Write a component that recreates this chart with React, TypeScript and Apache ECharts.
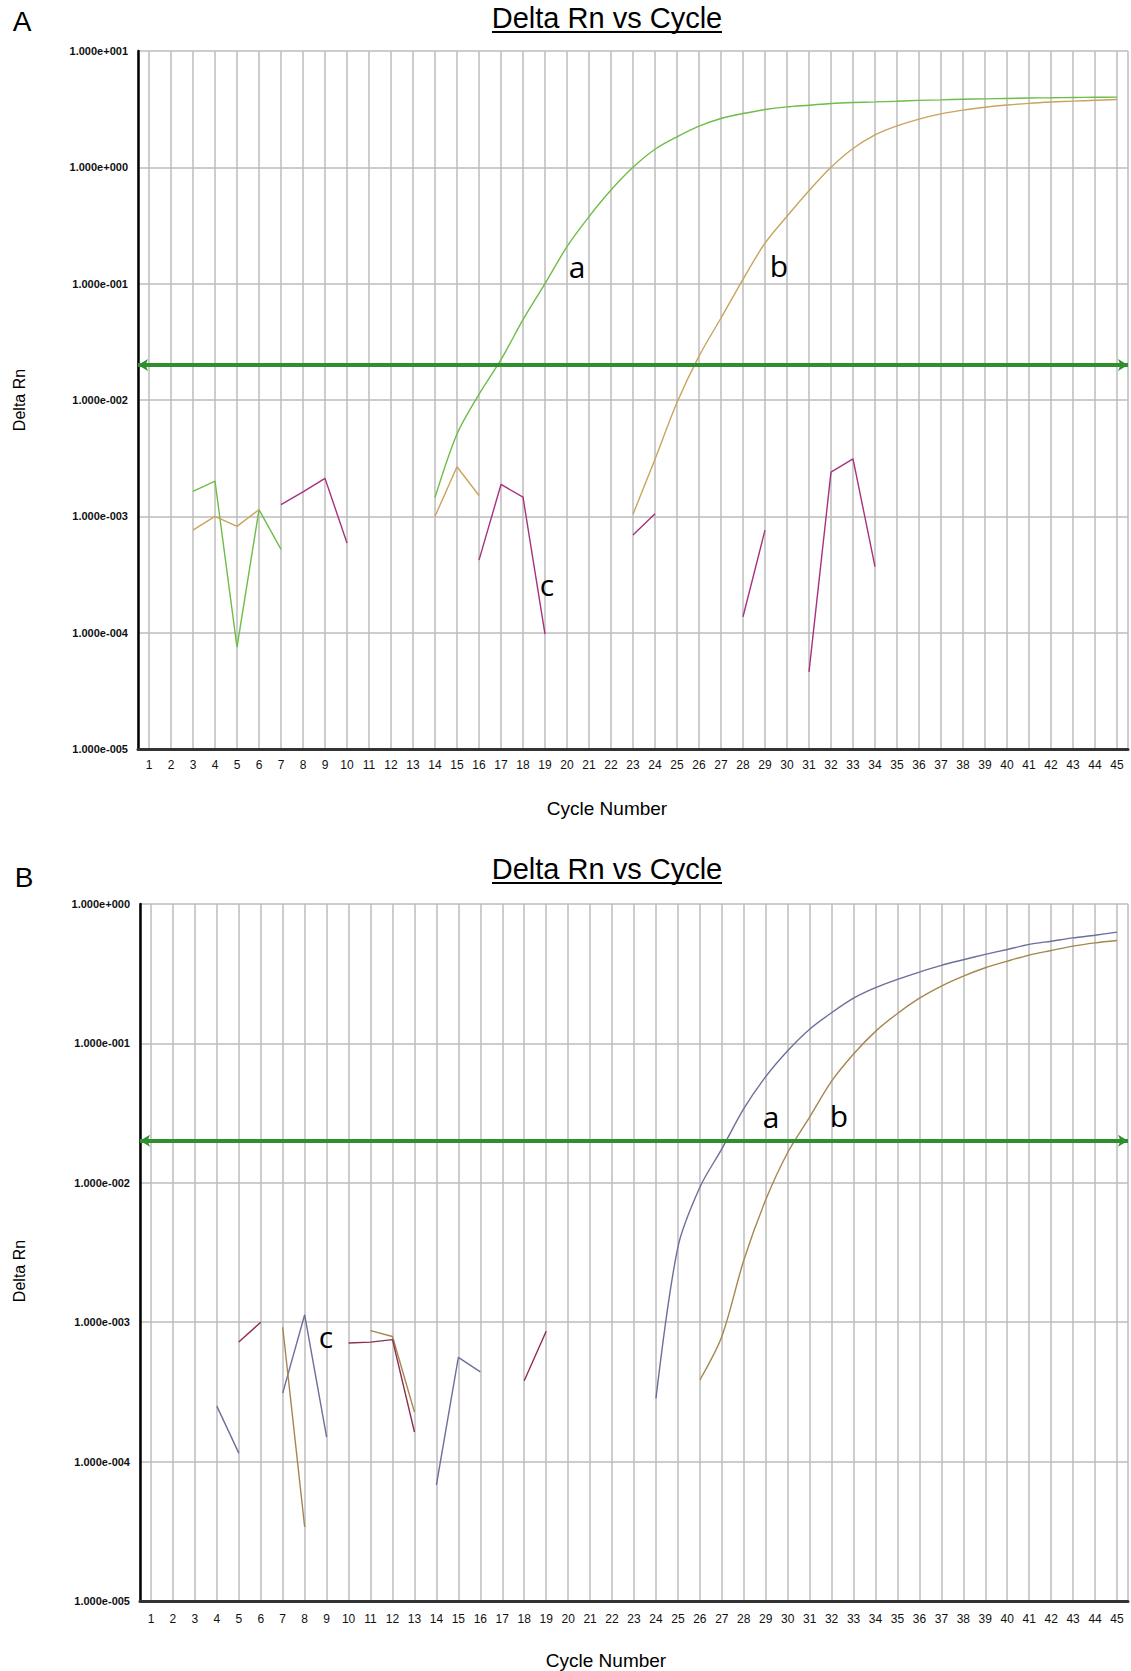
import React, { useEffect, useRef } from 'react';
import * as echarts from 'echarts';

// ---------- data ----------
const CYCLES = [1,2,3,4,5,6,7,8,9,10,11,12,13,14,15,16,17,18,19,20,21,22,23,24,25,26,27,28,29,30,31,32,33,34,35,36,37,38,39,40,41,42,43,44,45];
const THRESHOLD = 0.02;

// Panel A
const A_GREEN = [null,null,0.00164,0.00201,0.000075,0.00114,0.00052,null,null,null,null,null,null,
  0.00145,0.0051,0.0112,0.0222,0.049,0.1,0.208,0.377,0.638,1.0,
  1.43,1.83,2.26,2.63,2.9,3.14,3.31,3.42,3.54,3.61,
  3.65,3.7,3.76,3.8,3.85,3.88,3.91,3.94,3.96,3.98,4.0,4.01];
const A_ORANGE = [null,null,0.00076,0.001,0.00082,0.00114,null,null,null,null,null,null,null,
  0.001,0.00267,0.00151,null,null,null,null,null,null,
  0.00104,0.0031,0.0095,0.0238,0.0507,0.109,0.223,0.38,0.63,1.0,
  1.45,1.9,2.27,2.6,2.88,3.1,3.28,3.43,3.55,3.64,3.71,3.77,3.83];
const A_MAGENTA = [null,null,null,null,null,null,0.00126,0.00162,0.00212,0.00059,null,null,null,null,null,
  0.00042,0.00188,0.00146,0.000097,null,null,null,0.00069,0.00105,null,null,null,
  0.000137,0.00076,null,0.000046,0.0024,0.00312,0.00037,
  null,null,null,null,null,null,null,null,null,null,null];
// first cycle of each amplification curve (earlier points are background noise)
const A_GREEN_START = 14;
const A_ORANGE_START = 23;

// Panel B
const B_BLUE = [null,null,null,0.00025,0.000115,null,0.00031,0.00113,0.00015,null,null,null,null,
  0.000068,0.00056,0.00044,null,null,null,null,null,null,null,
  0.000284,0.00346,0.0093,0.0175,0.034,0.0578,0.0887,0.1265,0.166,0.211,
  0.251,0.288,0.325,0.363,0.398,0.435,0.472,0.513,0.541,0.571,0.597,0.628];
const B_BROWN = [null,null,null,null,null,null,0.00092,0.000034,null,null,0.00087,0.00079,0.000227,
  null,null,null,null,null,null,null,null,null,null,null,null,
  0.000385,0.00079,0.00278,0.00755,0.0165,0.0296,0.0536,0.084,0.122,0.164,
  0.211,0.258,0.304,0.349,0.389,0.43,0.464,0.499,0.526,0.547];
const B_MAROON = [null,null,null,null,0.00072,0.001,null,null,null,0.00071,0.00072,0.00075,0.000163,
  null,null,null,null,0.00038,0.00086,
  null,null,null,null,null,null,null,null,null,null,null,null,null,null,null,null,null,null,null,null,null,null,null,null,null,null];
const B_BLUE_START = 24;
const B_BROWN_START = 26;

const TITLE = 'Delta Rn vs Cycle';
const X_NAME = 'Cycle Number';
const Y_NAME = 'Delta Rn';

// ---------- styling ----------
const FONT = '"Liberation Sans", Arial, sans-serif';
const GRID_COLOR = '#bdbdbd';

const toPairs = (arr: (number | null)[], keep: (c: number) => boolean) =>
  CYCLES.map((c, i) => [c, arr[i] == null || !keep(c) ? '-' : arr[i]]);

const expFmt = (v: number) => {
  const e = Math.round(Math.log10(v));
  return `1.000e${e < 0 ? '-' : '+'}${String(Math.abs(e)).padStart(3, '0')}`;
};

const makeX = (gridIndex: number, margin: number) => ({
  type: 'value',
  gridIndex,
  min: 0.5,
  max: 45.5,
  splitNumber: 45,
  minInterval: 1,
  maxInterval: 1,
  axisLine: { show: true, onZero: false, lineStyle: { color: '#333', width: 3 } },
  axisTick: { show: false },
  axisLabel: {
    margin,
    fontFamily: FONT,
    fontSize: 12,
    color: '#111',
    formatter: (v: number) => (Number.isInteger(v) ? String(v) : ''),
  },
  splitLine: { show: true, lineStyle: { color: GRID_COLOR, width: 1.5 } },
});

const makeY = (gridIndex: number, max: number) => ({
  type: 'log',
  logBase: 10,
  gridIndex,
  min: 1e-5,
  max,
  axisLine: { show: true, lineStyle: { color: '#000', width: 2.5 } },
  axisTick: { show: false },
  axisLabel: {
    margin: 10,
    fontFamily: FONT,
    fontSize: 11,
    fontWeight: 'bold',
    color: '#111',
    formatter: expFmt,
  },
  splitLine: { show: true, lineStyle: { color: GRID_COLOR, width: 1.5 } },
});

const thresholdMark = {
  silent: true,
  symbol: ['arrow', 'arrow'],
  symbolSize: [9, 10],
  label: { show: false },
  lineStyle: { color: '#2f8f2f', width: 4, type: 'solid' },
  data: [{ yAxis: THRESHOLD }],
};

const base = (name: string, data: any[], color: string, gi: number, smooth: number | boolean) => ({
  name,
  type: 'line',
  xAxisIndex: gi,
  yAxisIndex: gi,
  data,
  showSymbol: false,
  connectNulls: false,
  smooth,
  lineStyle: { color, width: 1.4 },
  itemStyle: { color },
  z: 3,
});

// noise part as straight segments, amplification part smoothed
const trace = (name: string, arr: (number | null)[], color: string, gi: number, start = 999, withMark = false) => {
  const noise = { ...base(name + '-noise', toPairs(arr, (c) => c < start), color, gi, false), ...(withMark ? { markLine: thresholdMark } : {}) };
  if (start > 45) return [noise];
  const amp = base(name, toPairs(arr, (c) => c >= start), color, gi, 0.3);
  return [noise, amp];
};

const txt = (text: string, x: number, y: number, size: number, family = FONT, extra: any = {}) => ({
  type: 'text',
  x,
  y,
  z: 100,
  ...extra,
  style: {
    text,
    fill: '#000',
    fontSize: size,
    fontFamily: family,
    align: 'center',
    verticalAlign: 'middle',
  },
});

const ANNOT_FONT = '"Open Sans", "Noto Sans", sans-serif';

export default function App() {
  const ref = useRef<HTMLDivElement>(null);
  useEffect(() => {
    if (!ref.current) return;
    const chart = echarts.init(ref.current, undefined, { renderer: 'svg' });
    chart.setOption({
      animation: false,
      backgroundColor: '#ffffff',
      grid: [
        { left: 138, top: 51, width: 990, height: 698 },
        { left: 140, top: 904, width: 988, height: 697 },
      ],
      xAxis: [makeX(0, 10), makeX(1, 12)],
      yAxis: [makeY(0, 10), makeY(1, 1)],
      series: [
        ...trace('A-a', A_GREEN, '#6dbd47', 0, A_GREEN_START, true),
        ...trace('A-b', A_ORANGE, '#c9a45c', 0, A_ORANGE_START),
        ...trace('A-c', A_MAGENTA, '#a8307e', 0),
        ...trace('B-a', B_BLUE, '#6b6f9c', 1, B_BLUE_START, true),
        ...trace('B-b', B_BROWN, '#a5874e', 1, B_BROWN_START),
        ...trace('B-c', B_MAROON, '#8e2d55', 1),
      ],
      graphic: [
        txt('A', 22, 21, 28),
        txt(TITLE, 607, 18, 29),
        { type: 'line', z: 100, shape: { x1: 492, y1: 32, x2: 722, y2: 32 }, style: { stroke: '#000', lineWidth: 2 } },
        txt(X_NAME, 607, 808, 19),
        txt(Y_NAME, 19, 400, 16, FONT, { rotation: Math.PI / 2 }),
        txt('a', 577, 266, 30, ANNOT_FONT),
        txt('b', 779, 265, 30, ANNOT_FONT),
        txt('c', 547, 584, 30, ANNOT_FONT),

        txt('B', 24, 877, 28),
        txt(TITLE, 607, 869, 29),
        { type: 'line', z: 100, shape: { x1: 492, y1: 883, x2: 722, y2: 883 }, style: { stroke: '#000', lineWidth: 2 } },
        txt(X_NAME, 606, 1660, 19),
        txt(Y_NAME, 19, 1271, 16, FONT, { rotation: Math.PI / 2 }),
        txt('a', 771, 1116, 30, ANNOT_FONT),
        txt('b', 839, 1115, 30, ANNOT_FONT),
        txt('c', 326, 1336, 30, ANNOT_FONT),
      ],
    });
    return () => chart.dispose();
  }, []);
  return (
    <div
      ref={ref}
      style={{ position: 'absolute', left: 0, top: 0, width: 1131, height: 1671, background: '#fff' }}
    />
  );
}
